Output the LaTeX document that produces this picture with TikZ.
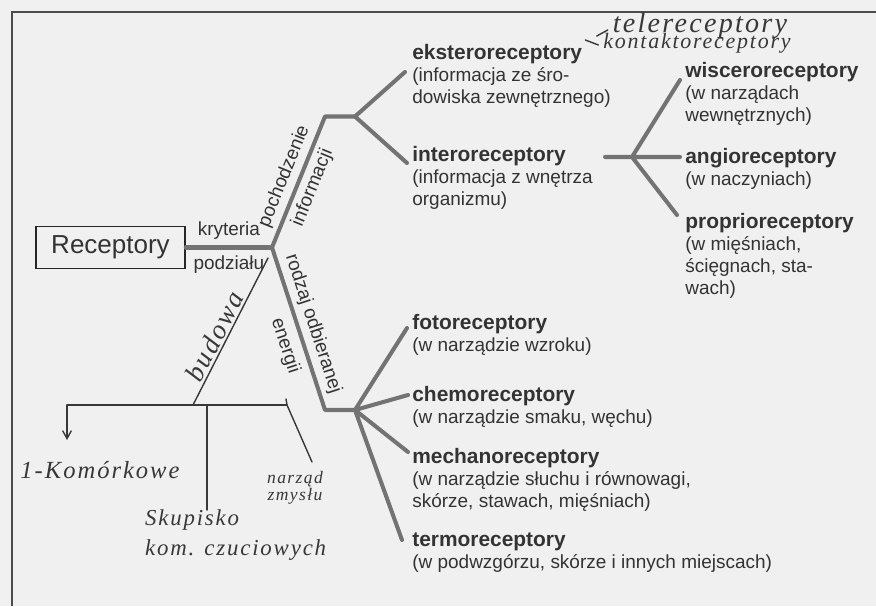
\documentclass[tikz,border=0pt]{standalone}
\usepackage{fontspec}
\setsansfont{Liberation Sans}
\newfontfamily\handfont[LetterSpace=8]{Liberation Serif}
\usetikzlibrary{arrows.meta}
\definecolor{paper}{gray}{0.94}
\definecolor{ink}{gray}{0.2}
\definecolor{branchgray}{gray}{0.45}
\definecolor{pencil}{gray}{0.22}
\newcommand{\rtyp}[1]{{\fontsize{11.9pt}{12.5pt}\selectfont\bfseries #1}}
\begin{document}
\begin{tikzpicture}[every node/.style={font=\sffamily\fontsize{10.8pt}{12.5pt}\selectfont,text=ink}, entry/.style={anchor=north west,align=left,inner sep=0pt}, branch/.style={draw=branchgray,line width=2.3pt,line cap=round,line join=round}, lbl/.style={sloped,inner sep=2.5pt}, pen/.style={draw=pencil,line width=0.8pt,line cap=round}, hand/.style={font=\handfont\itshape\fontsize{14pt}{17pt}\selectfont,text=pencil,inner sep=1pt}]
\fill[paper] (0,0) rectangle (17.52,12.12);
\useasboundingbox (0,0) rectangle (17.52,12.12);
\draw[black!70,line width=1.1pt] (0.24,0) -- (0.24,11.88) -- (17.52,11.88);
\node[draw=black!85,line width=0.9pt,minimum width=2.98cm,minimum height=0.84cm,inner sep=0pt,font=\sffamily\fontsize{14.8pt}{16pt}\selectfont] (rec) at (2.21,7.17) {Receptory};
\coordinate (J) at (5.44,7.17);
\coordinate (pk) at (6.5,9.79);
\coordinate (pf) at (7.1,9.79);
\coordinate (eksE) at (8.1,10.68);
\coordinate (intE) at (8.14,8.86);
\coordinate (ek) at (6.5,3.92);
\coordinate (ef) at (7.1,3.92);
\coordinate (fotE) at (8.14,5.56);
\coordinate (cheE) at (8.16,4.22);
\coordinate (mecE) at (8.16,3.08);
\coordinate (terE) at (8.04,1.32);
\coordinate (if) at (12.64,8.98);
\coordinate (istub) at (12.1,8.98);
\coordinate (angE) at (13.6,8.98);
\coordinate (wisE) at (13.6,10.52);
\coordinate (proE) at (13.54,7.82);
\node[entry] (eks) at (8.24,11.24) {\rtyp{eksteroreceptory}\\(informacja ze śro-\\dowiska zewnętrznego)};
\node[entry] (int) at (8.24,9.2) {\rtyp{interoreceptory}\\(informacja z wnętrza\\organizmu)};
\node[entry] (wis) at (13.7,10.88) {\rtyp{wisceroreceptory}\\(w narządach\\wewnętrznych)};
\node[entry] (ang) at (13.7,9.16) {\rtyp{angioreceptory}\\(w naczyniach)};
\node[entry] (pro) at (13.7,7.86) {\rtyp{proprioreceptory}\\(w mięśniach,\\ścięgnach, sta-\\wach)};
\node[entry] (fot) at (8.24,5.84) {\rtyp{fotoreceptory}\\(w narządzie wzroku)};
\node[entry] (che) at (8.24,4.4) {\rtyp{chemoreceptory}\\(w narządzie smaku, węchu)};
\node[entry] (mec) at (8.24,3.16) {\rtyp{mechanoreceptory}\\(w narządzie słuchu i równowagi,\\skórze, stawach, mięśniach)};
\node[entry] (ter) at (8.24,1.46) {\rtyp{termoreceptory}\\(w podwzgórzu, skórze i innych miejscach)};
\draw[branch] (rec.east) -- node[above]{kryteria} node[below]{podziału} (J);
\draw[branch] (J) -- node[lbl,above]{pochodzenie} node[lbl,below]{informacji} (pk) -- (pf);
\draw[branch] (eksE) -- (pf) -- (intE);
\draw[branch] (J) -- node[lbl,above]{rodzaj odbieranej} node[lbl,below,pos=0.57,inner sep=4pt]{energii} (ek) -- (ef);
\draw[branch] (ef) -- (fotE) (ef) -- (cheE) (ef) -- (mecE) (ef) -- (terE);
\draw[branch] (istub) -- (angE) (wisE) -- (if) -- (proE);
\coordinate (bA) at (5.36,6.96);
\coordinate (bB) at (3.86,4.02);
\coordinate (hL) at (1.34,4.02);
\coordinate (hM) at (4.14,4.02);
\coordinate (hR) at (5.74,4.02);
\coordinate (tk) at (5.72,4.14);
\coordinate (aE) at (1.34,3.32);
\coordinate (mB) at (4.14,1.92);
\coordinate (dE) at (6.24,2.88);
\draw[pen] (bB) -- node[hand,sloped,above,pos=0.43,font=\handfont\itshape\fontsize{15.5pt}{17pt}\selectfont]{budowa} (bA);
\draw[pen] (hL) -- (hR);
\draw[pen,-{Straight Barb[length=4.5pt,width=5pt]}] (hL) -- (aE);
\draw[pen] (hM) -- (mB);
\draw[pen] (tk) -- (hR) -- (dE);
\node[hand] (one) at (2.0,2.72) {1-Komórkowe};
\node[hand,align=left,anchor=west,font=\handfont\itshape\fontsize{13pt}{17pt}\selectfont] (sku) at (2.86,1.42) {Skupisko\\kom. czuciowych};
\node[hand,align=center,font=\handfont\itshape\fontsize{10pt}{10pt}\selectfont] (zmy) at (5.9,2.36) {narząd\\zmysłu};
\node[hand,font=\handfont\itshape\fontsize{16pt}{17pt}\selectfont] (tele) at (14.0,11.6) {telereceptory};
\node[hand,font=\handfont\itshape\fontsize{12.5pt}{14pt}\selectfont] (kont) at (13.94,11.26) {kontaktoreceptory};
\draw[pen] ([xshift=-0.28cm,yshift=-0.2cm]tele.west) -- ++(0.22,0.12);
\draw[pen] ([xshift=-0.32cm,yshift=0.06cm]kont.west) -- ++(0.26,-0.1);
\end{tikzpicture}
\end{document}
